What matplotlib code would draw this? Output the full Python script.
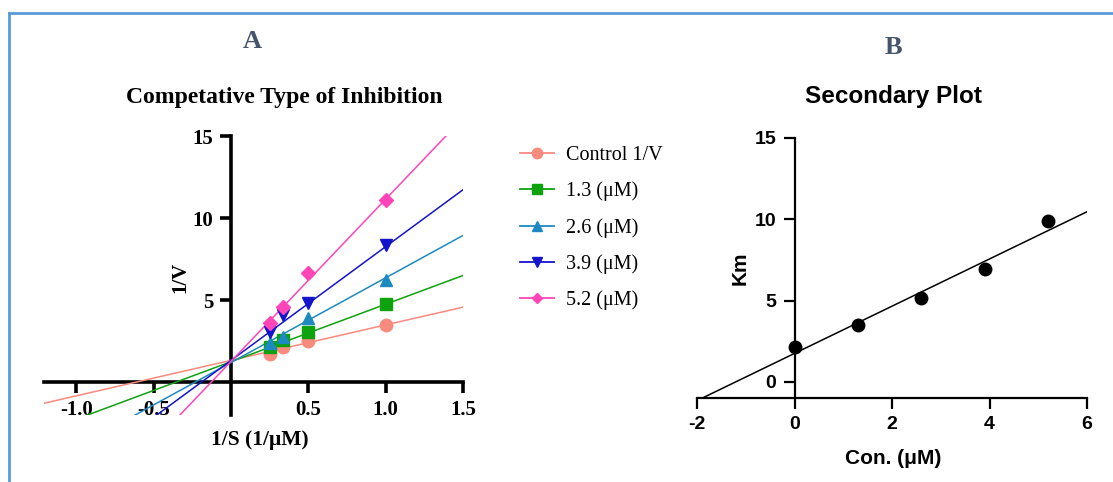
import numpy as np
import matplotlib.pyplot as plt
from matplotlib.lines import Line2D

plt.rcParams["axes.unicode_minus"] = False

# Lineweaver-Burk data (panel A)
inv_s = [0.25, 0.333, 0.5, 1.0]
series_labels = ["Control 1/V", "1.3 (\u03bcM)", "2.6 (\u03bcM)", "3.9 (\u03bcM)", "5.2 (\u03bcM)"]
inv_v = [
    [1.70, 2.13, 2.49, 3.47],
    [2.13, 2.55, 3.04, 4.74],
    [2.40, 2.77, 3.90, 6.20],
    [3.04, 4.07, 4.80, 8.33],
    [3.59, 4.56, 6.63, 11.10],
]
fit_slope = [2.16, 3.50, 5.16, 6.93, 9.88]
fit_intercept = [1.33, 1.25, 1.20, 1.33, 1.27]
colors = ["#F98A7E", "#0FA20F", "#1C8AC0", "#1414CC", "#FF45B8"]
markers = ["o", "s", "^", "v", "D"]
msizes = [9, 9, 9, 9, 7]

# Secondary plot data (panel B)
conc = [0.0, 1.3, 2.6, 3.9, 5.2]
km = [2.15, 3.50, 5.15, 6.93, 9.88]

serif = "Liberation Serif"
sans = "Liberation Sans"

fig = plt.figure(figsize=(11.13, 4.82), dpi=100)

# blue frame on top and left
fig.add_artist(Line2D([9 / 1113, 9 / 1113], [0, 1 - 13 / 482], transform=fig.transFigure, color="#5B9BD5", lw=2))
fig.add_artist(Line2D([9 / 1113, 1], [1 - 13 / 482, 1 - 13 / 482], transform=fig.transFigure, color="#5B9BD5", lw=2))

# ---------------- Panel A ----------------
ax = fig.add_axes([44 / 1113, 1 - 415 / 482, 419 / 1113, 279 / 482])
ax.set_xlim(-1.21, 1.5)
ax.set_ylim(-2, 15)
xx = np.array([-3.0, 3.0])
for i in range(5):
    ax.plot(xx, fit_slope[i] * xx + fit_intercept[i], color=colors[i], lw=1.1, zorder=3)
    ax.plot(inv_s, inv_v[i], linestyle="none", marker=markers[i], ms=msizes[i],
            color=colors[i], zorder=4)

for s in ["top", "right"]:
    ax.spines[s].set_visible(False)
ax.spines["left"].set_position(("data", 0))
ax.spines["bottom"].set_position(("data", 0))
for s in ["left", "bottom"]:
    ax.spines[s].set_linewidth(2.6)
ax.set_xticks([-1.0, -0.5, 0.5, 1.0, 1.5])
ax.set_yticks([5, 10, 15])
ax.set_xticklabels(["-1.0", "-0.5", "0.5", "1.0", "1.5"])
ax.tick_params(width=2.6, length=8, direction="out", pad=5)
for lab in ax.get_xticklabels() + ax.get_yticklabels():
    lab.set_fontfamily(serif)
    lab.set_fontweight("bold")
    lab.set_fontsize(15)

fig.text(260 / 1113, 1 - 440 / 482, "1/S (1/\u03bcM)", family=serif, weight="bold",
         fontsize=15.5, ha="center", va="center")
fig.text(180 / 1113, 1 - 277 / 482, "1/V", family=serif, weight="bold",
         fontsize=15, ha="center", va="center", rotation=90)
fig.text(284 / 1113, 1 - 98 / 482, "Competative Type of Inhibition", family=serif,
         weight="bold", fontsize=17, ha="center", va="center")
fig.text(252 / 1113, 1 - 42 / 482, "A", family=serif, weight="bold", fontsize=19,
         color="#44546A", ha="center", va="center")

handles = [Line2D([0], [0], color=colors[i], lw=1.3, marker=markers[i], ms=msizes[i] - 1.5)
           for i in range(5)]
fig.legend(handles, series_labels, loc="upper left", bbox_to_anchor=(512 / 1113, 1 - 138 / 482),
           frameon=False, prop={"family": serif, "size": 14.5}, handlelength=1.7,
           handletextpad=0.6, labelspacing=0.82, borderaxespad=0)

# ---------------- Panel B ----------------
bx = fig.add_axes([697 / 1113, 1 - 398 / 482, 390 / 1113, 260 / 482])
bx.set_xlim(-2, 6)
bx.set_ylim(-1, 15)
b_slope, b_int = np.polyfit(conc, km, 1)
bx_line = np.array([-3.0, 6.0])
bx.plot(bx_line, b_slope * bx_line + b_int, color="black", lw=1.1, zorder=3)
bx.plot(conc, km, "o", color="black", ms=9, zorder=4, clip_on=False)
for s in ["top", "right"]:
    bx.spines[s].set_visible(False)
bx.spines["left"].set_position(("data", 0))
for s in ["left", "bottom"]:
    bx.spines[s].set_linewidth(1.6)
bx.set_xticks([-2, 0, 2, 4, 6])
bx.set_yticks([0, 5, 10, 15])
bx.tick_params(width=1.6, length=8, direction="out", pad=5)
for lab in bx.get_xticklabels() + bx.get_yticklabels():
    lab.set_fontfamily(sans)
    lab.set_fontweight("bold")
    lab.set_fontsize(14)

fig.text(893 / 1113, 1 - 458 / 482, "Con. (\u03bcM)", family=sans, weight="bold",
         fontsize=15, ha="center", va="center")
fig.text(740 / 1113, 1 - 268 / 482, "Km", family=sans, weight="bold",
         fontsize=15, ha="center", va="center", rotation=90)
fig.text(893 / 1113, 1 - 97 / 482, "Secondary Plot", family=sans, weight="bold",
         fontsize=17.5, ha="center", va="center")
fig.text(893 / 1113, 1 - 47 / 482, "B", family=serif, weight="bold", fontsize=19,
         color="#44546A", ha="center", va="center")

fig.savefig("out.png", dpi=100)
